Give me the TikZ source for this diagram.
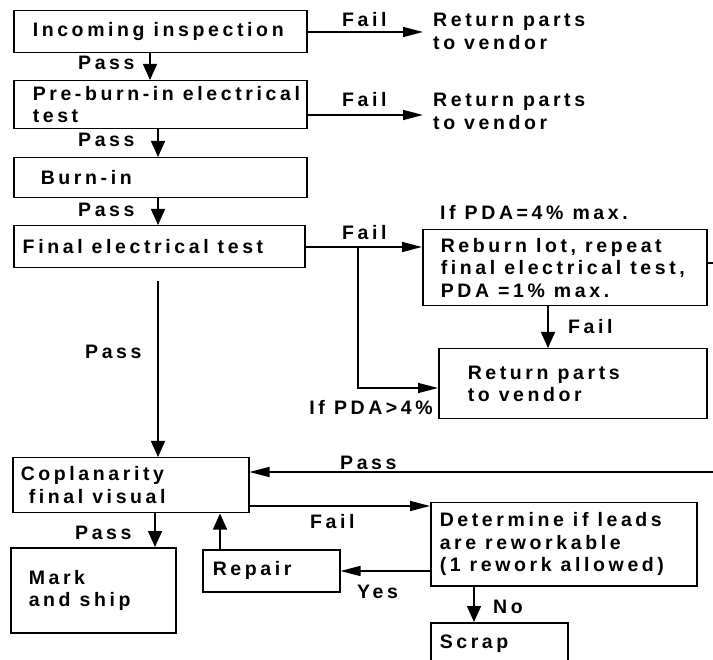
\documentclass[tikz,border=0pt]{standalone}
\usepackage{fontspec}
\newfontfamily\dfont{Liberation Sans Bold}[LetterSpace=18.5]
\usetikzlibrary{arrows.meta}
\newcommand\bxt[2]{\parbox{#1}{\raggedright #2}}
\begin{document}
\begin{tikzpicture}[x=1pt,y=-1pt,
  font=\dfont\fontsize{19.5}{22.5}\selectfont,
  box/.style={draw, line width=1.5pt, anchor=north west, inner ysep=0pt},
  ln/.style={line width=1.5pt},
  harr/.style={line width=1.5pt, -{Triangle[length=20pt,width=10pt]}},
  varr/.style={line width=1.5pt, -{Triangle[length=16pt,width=14pt]}},
  lbl/.style={inner sep=0pt, anchor=west},
  ret/.style={inner xsep=10pt, inner ysep=0pt, anchor=west, align=left}]
\useasboundingbox (0,0) rectangle (713,660);

% boxes
\node[box, minimum width=293pt, minimum height=42pt, inner xsep=19pt] (b1) at (13,10) {\bxt{255pt}{\mbox{Incoming inspection}}};
\node[box, minimum width=293pt, minimum height=48pt, inner xsep=19pt] (b2) at (13,80) {\bxt{255pt}{\mbox{Pre-burn-in electrical}\\test}};
\node[box, minimum width=293pt, minimum height=40pt, inner xsep=27pt] (b3) at (13,157) {\bxt{239pt}{Burn-in}};
\node[box, minimum width=291pt, minimum height=42pt, inner xsep=9pt] (b4) at (13,225) {\bxt{273pt}{\mbox{Final electrical test}}};
\node[box, minimum width=284pt, minimum height=76pt, inner xsep=18pt] (b5) at (422,229) {\bxt{248pt}{\mbox{Reburn lot, repeat}\\\mbox{final electrical test,}\\\mbox{PDA =1\% max.}}};
\node[box, minimum width=268pt, minimum height=70pt, inner xsep=29pt] (b6) at (438,348) {\bxt{210pt}{Return parts\\to vendor}};
\node[box, minimum width=236pt, minimum height=55pt, inner xsep=8pt] (b7) at (12,457) {\bxt{220pt}{Coplanarity\\\hspace*{8pt}final visual}};
\node[box, minimum width=266pt, minimum height=83pt, inner xsep=9pt] (b8) at (430,502) {\bxt{248pt}{\mbox{Determine if leads}\\\mbox{are reworkable}\\\mbox{(1 rework allowed)}}};
\node[box, minimum width=137pt, minimum height=42pt, inner xsep=10pt] (rep) at (202,549) {\bxt{117pt}{Repair}};
\node[box, minimum width=165pt, minimum height=85pt, inner xsep=18pt] (mark) at (10,547) {\bxt{129pt}{Mark\\and ship}};
\node[box, minimum width=137pt, minimum height=41pt, inner xsep=9pt] (scrap) at (430,622) {\bxt{119pt}{Scrap}};

% return texts
\node[ret] (r1) at (423,31.5) {Return parts\\to vendor};
\node[ret] (r2) at (423,111.5) {Return parts\\to vendor};

% labels
\node[lbl] (p1) at (78,63) {Pass};
\node[lbl] (p2) at (78,140) {Pass};
\node[lbl] (p3) at (78,210) {Pass};
\node[lbl] (f1) at (342,20) {Fail};
\node[lbl] (f2) at (342,100) {Fail};
\node[lbl] (f3) at (342,233) {Fail};
\node[lbl] (pda4) at (440,213) {If PDA=4\% max.};
\node[lbl, anchor=east] (pdag) at (433,408) {If PDA>4\%};
\node[lbl] (f4) at (568,327) {Fail};
\node[lbl] (p4) at (85,352) {Pass};
\node[lbl] (p5) at (340,463) {Pass};
\node[lbl] (f5) at (310,522) {Fail};
\node[lbl] (yes) at (357,592) {Yes};
\node[lbl] (p6) at (75,533) {Pass};
\node[lbl] (no) at (493,607) {No};

% connectors
\draw[varr] (150,0 |- b1.south) -- (150,0 |- b2.north);
\draw[varr] (158,0 |- b2.south) -- (158,0 |- b3.north);
\draw[varr] (158,0 |- b3.south) -- (158,0 |- b4.north);
\draw[harr] (b1.east |- 0,32) -- (r1.west |- 0,32);
\draw[harr] (b2.east |- 0,115) -- (r2.west |- 0,115);
\draw[harr] (b4.east |- 0,247) -- (b5.west |- 0,247);
\coordinate (br) at (358,247);
\draw[harr] (br) |- (b6.west |- 0,388);
\draw[varr] (548,0 |- b5.south) -- (548,0 |- b6.north);
\coordinate (e1) at (713,263);
\draw[ln] (b5.east |- e1) -- (e1);
\coordinate (e2) at (713,472);
\draw[harr] (e2) -- (b7.east |- e2);
\draw[varr, shorten <=13pt] (158,0 |- b4.south) -- (158,0 |- b7.north);
\draw[harr] (b7.east |- 0,506) -- (b8.west |- 0,506);
\draw[harr] (b8.west |- 0,571) -- (rep.east |- 0,571);
\draw[varr] (220,0 |- rep.north) -- (220,0 |- b7.south);
\draw[varr] (155,0 |- b7.south) -- (155,0 |- mark.north);
\draw[varr] (474,0 |- b8.south) -- (474,0 |- scrap.north);
\end{tikzpicture}
\end{document}
